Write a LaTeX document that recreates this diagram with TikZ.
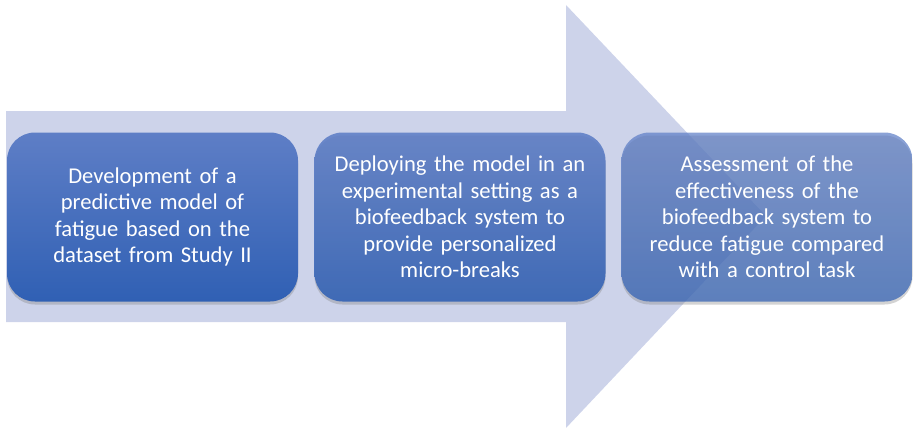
\documentclass[tikz,border=0pt]{standalone}
\usepackage{fontspec}
\setmainfont{Carlito}
\usetikzlibrary{shadows}
\definecolor{arrowfill}{HTML}{CDD3EA}
\definecolor{boxtop}{HTML}{5E7EC6}
\definecolor{boxbot}{HTML}{3060B4}
\tikzset{
  stagebox/.style={rounded corners=28pt, top color=boxtop, bottom color=boxbot,
    drop shadow={opacity=0.35, shadow xshift=0pt, shadow yshift=-3pt},
    text=white, align=center, font=\fontsize{22.6}{26.6}\selectfont,
    inner sep=0pt, minimum width=291pt, minimum height=169pt, text width=284pt}
}
\begin{document}
\begin{tikzpicture}[x=1pt,y=-1pt]
\useasboundingbox (0,0) rectangle (913,428);
\fill[arrowfill] (6,111) -- (566,111) -- (566,5) -- (766,216) -- (566,428) -- (566,322) -- (6,322) -- cycle;
\node[stagebox] (s1) at (152.5,217) {Development of a\\predictive model of\\fatigue based on the\\dataset from Study II};
\node[stagebox, fill opacity=0.88, text opacity=1] (s2) at (460,217) {Deploying the model in an\\experimental setting as a\\biofeedback system to\\provide personalized\\micro-breaks};
\node[stagebox, fill opacity=0.72, text opacity=1] (s3) at (767,217) {Assessment of the\\effectiveness of the\\biofeedback system to\\reduce fatigue compared\\with a control task};
\end{tikzpicture}
\end{document}
